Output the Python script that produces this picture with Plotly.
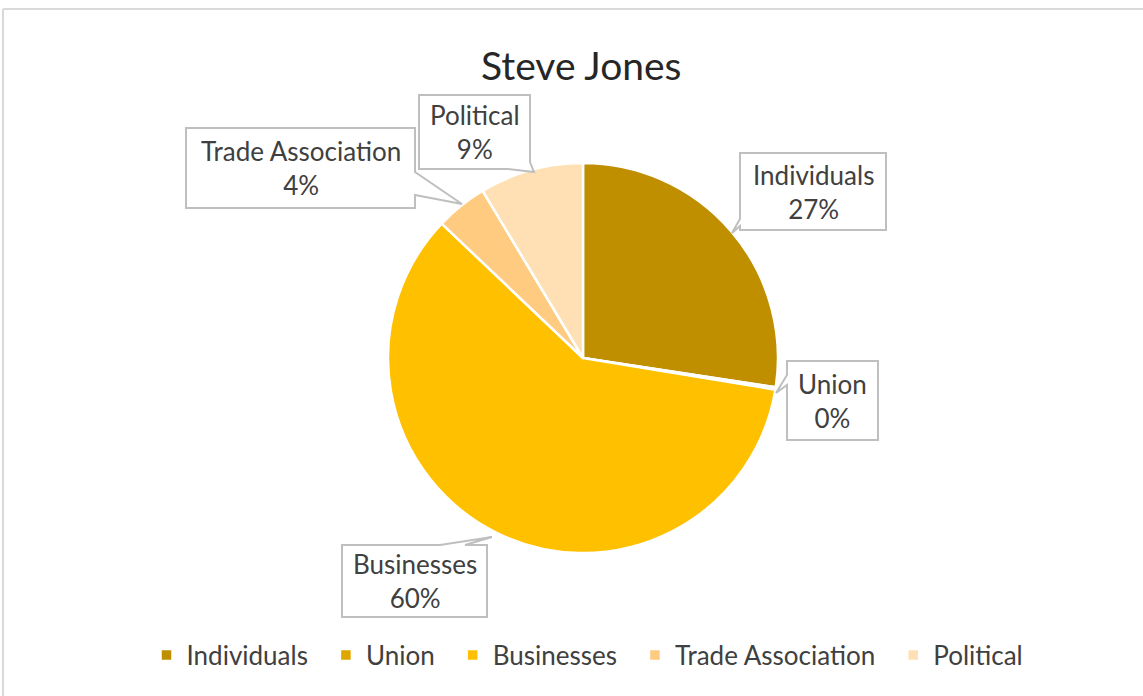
import plotly.graph_objects as go

# ---- data ----
categories = ["Individuals", "Union", "Businesses", "Trade Association", "Political"]
values = [27.4, 0.2, 59.5, 4.3, 8.6]
colors = ["#BF8F00", "#E0A600", "#FFC000", "#FFCB80", "#FFE0B5"]
chart_title = "Steve Jones"

W, H = 1143, 696
FONT = "Lato, 'Open Sans', sans-serif"
TEXT_COLOR = "#404040"


def px(x):
    return x / W


def py(y):
    return 1 - y / H


# legend entries get a little trailing room, like the reference's wider spacing
legend_labels = [c + "\u2002" for c in categories]

fig = go.Figure(
    go.Pie(
        labels=legend_labels,
        values=values,
        sort=False,
        direction="clockwise",
        rotation=0,
        marker=dict(colors=colors, line=dict(color="white", width=2.5)),
        textinfo="none",
        hoverinfo="label+percent",
        domain=dict(x=[px(388), px(778)], y=[py(553), py(163)]),
        showlegend=True,
    )
)

total = sum(values)
pcts = {c: round(v / total * 100) for c, v in zip(categories, values)}

# callout outlines (perimeter in pixels, including the pointer wedge)
callouts = {
    "Individuals": [(740, 153), (886, 153), (886, 230), (740, 230), (740, 226), (732, 233), (740, 219)],
    "Union": [(787, 361), (878, 361), (878, 440), (787, 440), (787, 385), (776, 393), (787, 375)],
    "Businesses": [(342, 545), (440, 545), (492, 537), (465, 545), (487, 545), (487, 617), (342, 617)],
    "Trade Association": [(186, 128), (415, 128), (415, 172), (462, 204), (415, 195), (415, 208), (186, 208)],
    "Political": [(419, 95), (530, 95), (530, 162), (534, 172), (508, 169), (419, 169)],
}
boxes = {
    "Individuals": (740, 153, 886, 230),
    "Union": (787, 361, 878, 440),
    "Businesses": (342, 545, 487, 617),
    "Trade Association": (186, 128, 415, 208),
    "Political": (419, 95, 530, 169),
}

shapes = []
annotations = []
for cat in categories:
    pts = callouts[cat]
    path = "M " + " L ".join(f"{px(x):.5f},{py(y):.5f}" for x, y in pts) + " Z"
    shapes.append(dict(type="path", xref="paper", yref="paper", path=path,
                       line=dict(color="#BFBFBF", width=2), fillcolor="white", layer="above"))
    l, t, r, b = boxes[cat]
    annotations.append(dict(
        x=px((l + r) / 2), y=py((t + b) / 2), xref="paper", yref="paper",
        text=f"{cat}<br>{pcts[cat]}%", showarrow=False, align="center",
        xanchor="center", yanchor="middle",
        font=dict(family=FONT, size=26, color=TEXT_COLOR),
    ))

# chart title
annotations.append(dict(
    x=px(581), y=py(65), xref="paper", yref="paper", text=chart_title,
    showarrow=False, xanchor="center", yanchor="middle",
    font=dict(family=FONT, size=39, color="#262626"),
))

# outer frame (top and left edges visible)
shapes.append(dict(type="line", xref="paper", yref="paper", x0=px(3), x1=1, y0=py(9), y1=py(9),
                   line=dict(color="#D9D9D9", width=2)))
shapes.append(dict(type="line", xref="paper", yref="paper", x0=px(3), x1=px(3), y0=py(9), y1=0,
                   line=dict(color="#D9D9D9", width=2)))

fig.update_layout(
    width=W, height=H,
    margin=dict(l=0, r=0, t=0, b=0),
    paper_bgcolor="white",
    plot_bgcolor="white",
    shapes=shapes,
    annotations=annotations,
    legend=dict(
        orientation="h", x=px(594), y=py(655), xanchor="center", yanchor="middle",
        font=dict(family=FONT, size=26, color=TEXT_COLOR),
        traceorder="normal", itemwidth=30,
    ),
)

fig.write_html("out.html", config={"displayModeBar": False},
               post_script="document.body.style.margin='0';")
